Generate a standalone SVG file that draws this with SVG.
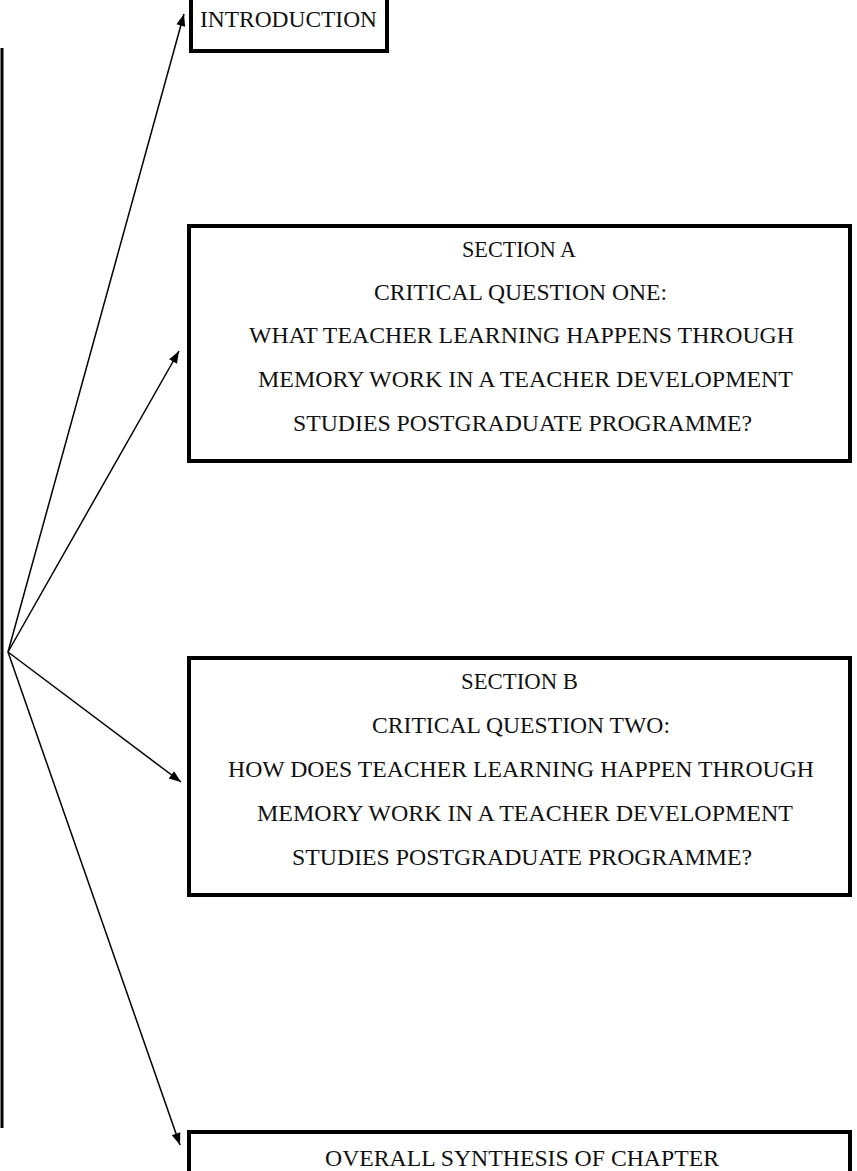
<svg xmlns="http://www.w3.org/2000/svg" width="857" height="1171" viewBox="0 0 857 1171">
<style>
.box{fill:#fff;stroke:#000;stroke-width:4}
.t{font-family:"Liberation Serif","Times New Roman",serif;font-size:23.5px;fill:#111;text-anchor:middle}
.c{stroke:#000;stroke-width:1.5;fill:none}
</style>
<defs>
<marker id="ah" markerWidth="13" markerHeight="10" refX="12" refY="5" orient="auto" markerUnits="userSpaceOnUse" viewBox="0 0 12 10">
<path d="M0,0.5 L12,5 L0,9.5 Z" fill="#000"/>
</marker>
</defs>
<rect width="857" height="1171" fill="#fff"/>
<g id="connectors">
<line x1="2" y1="48" x2="2" y2="1128" stroke="#000" stroke-width="3"/>
<line class="c" x1="8" y1="652" x2="184" y2="14" marker-end="url(#ah)"/>
<line class="c" x1="8" y1="652" x2="179" y2="351" marker-end="url(#ah)"/>
<line class="c" x1="8" y1="652" x2="181" y2="782" marker-end="url(#ah)"/>
<line class="c" x1="8" y1="652" x2="180" y2="1145" marker-end="url(#ah)"/>
</g>
<g id="intro">
<rect class="box" x="191" y="-5" width="196" height="56"/>
<text class="t" x="288.5" y="27" textLength="177" lengthAdjust="spacingAndGlyphs">INTRODUCTION</text>
</g>
<g id="sectionA">
<rect class="box" x="189" y="226" width="661" height="235"/>
<text class="t" x="519" y="257" textLength="114" lengthAdjust="spacingAndGlyphs">SECTION A</text>
<text class="t" x="520.5" y="300" textLength="293" lengthAdjust="spacingAndGlyphs">CRITICAL QUESTION ONE:</text>
<text class="t" x="521.5" y="343" textLength="545" lengthAdjust="spacingAndGlyphs">WHAT TEACHER LEARNING HAPPENS THROUGH</text>
<text class="t" x="525.5" y="387" textLength="535" lengthAdjust="spacingAndGlyphs">MEMORY WORK IN A TEACHER DEVELOPMENT</text>
<text class="t" x="522.5" y="431" textLength="459" lengthAdjust="spacingAndGlyphs">STUDIES POSTGRADUATE PROGRAMME?</text>
</g>
<g id="sectionB">
<rect class="box" x="189" y="658" width="661" height="237"/>
<text class="t" x="519.5" y="689" textLength="117" lengthAdjust="spacingAndGlyphs">SECTION B</text>
<text class="t" x="521" y="733" textLength="298" lengthAdjust="spacingAndGlyphs">CRITICAL QUESTION TWO:</text>
<text class="t" x="521" y="777" textLength="586" lengthAdjust="spacingAndGlyphs">HOW DOES TEACHER LEARNING HAPPEN THROUGH</text>
<text class="t" x="525" y="821" textLength="536" lengthAdjust="spacingAndGlyphs">MEMORY WORK IN A TEACHER DEVELOPMENT</text>
<text class="t" x="522" y="865" textLength="460" lengthAdjust="spacingAndGlyphs">STUDIES POSTGRADUATE PROGRAMME?</text>
</g>
<g id="overall">
<rect class="box" x="189" y="1132" width="661" height="50"/>
<text class="t" x="522" y="1166" textLength="394" lengthAdjust="spacingAndGlyphs">OVERALL SYNTHESIS OF CHAPTER</text>
</g>
</svg>
